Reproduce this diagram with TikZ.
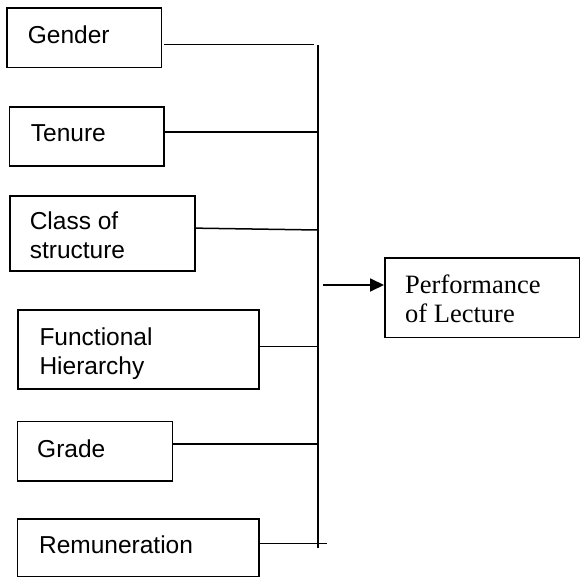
\documentclass[tikz,border=0pt]{standalone}
\usepackage{fontspec}
\setmainfont{Liberation Serif}
\setsansfont{Liberation Sans}
\usetikzlibrary{arrows.meta}
\tikzset{
  box/.style={draw, line width=1.6pt, rectangle, anchor=north west, inner sep=0pt},
  lbl/.style={anchor=base west, inner sep=0pt, align=left, font=\sffamily\fontsize{24.5}{28.8}\selectfont},
  slbl/.style={anchor=base west, inner sep=0pt, align=left, font=\rmfamily\fontsize{26.5}{29.7}\selectfont},
  conn/.style={line width=1.5pt},
  busline/.style={line width=1.8pt},
  arr/.style={line width=1.8pt, -{Triangle[length=14pt,width=13pt]}}
}
\begin{document}
\begin{tikzpicture}[x=1pt,y=-1pt]
\useasboundingbox (0,0) rectangle (580,577);
% boxes
\node[box, minimum width=154.7pt, minimum height=59.4pt] (gender) at (6,7.3) {};
\node[box, minimum width=154.6pt, minimum height=59pt] (tenure) at (8.7,106) {};
\node[box, minimum width=185.3pt, minimum height=74.7pt] (class) at (9,195.3) {};
\node[box, minimum width=241pt, minimum height=79.3pt] (func) at (17.3,309) {};
\node[box, minimum width=155pt, minimum height=59.3pt] (grade) at (16.7,420.7) {};
\node[box, minimum width=241.6pt, minimum height=58pt] (remun) at (16.7,518.3) {};
\node[box, minimum width=195pt, minimum height=79.4pt] (perf) at (384,257.3) {};
% labels (base anchor = baseline of the last line)
\node[lbl] (tgender) at (27.7,43.3) {Gender};
\node[lbl] (ttenure) at (30.7,141.7) {Tenure};
\node[lbl] (tclass) at (29.6,258.3) {Class of\\structure};
\node[lbl] (tfunc) at (39.3,374) {Functional\\Hierarchy};
\node[lbl] (tgrade) at (37,457) {Grade};
\node[lbl] (tremun) at (38.9,553.3) {Remuneration};
\node[slbl] (tperf) at (405,322.7) {Performance\\of Lecture};
% bus
\coordinate (bustop) at (318,45);
\coordinate (busbot) at (318,548.3);
\draw[busline] (bustop) -- (busbot);
\coordinate (b1) at (314,44.7);
\coordinate (b2) at (318,132);
\coordinate (b3) at (318,230);
\coordinate (b4) at (318,346.7);
\coordinate (b5) at (318,444);
\coordinate (b6) at (326.7,543.6);
\coordinate (a0) at (323,285);
% connectors
\draw[conn] ([xshift=2pt]gender.east |- b1) -- (b1);
\draw[conn] (tenure.east |- b2) -- (b2);
\draw[conn] ([yshift=5.3pt]class.east) -- (b3);
\draw[conn] (func.east |- b4) -- (b4);
\draw[conn] (grade.east |- b5) -- (b5);
\draw[conn] (remun.east |- b6) -- (b6);
\draw[arr] (a0) -- (perf.west |- a0);
\end{tikzpicture}
\end{document}
